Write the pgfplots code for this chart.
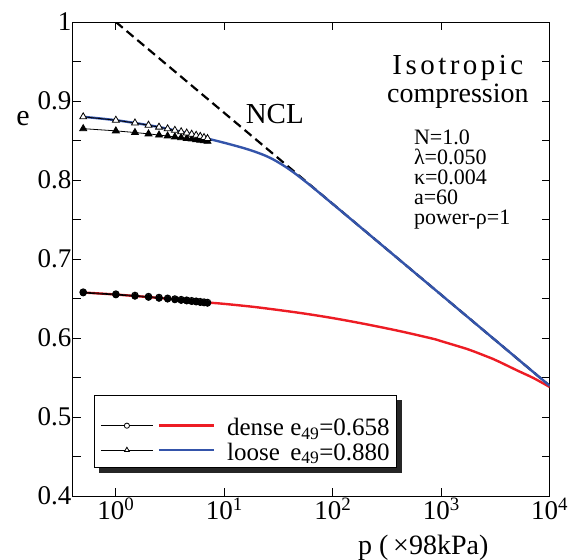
\documentclass[border=0pt]{standalone}
\usepackage{fontspec}
\setmainfont{Liberation Serif}
\usepackage{pgfplots}
\pgfplotsset{compat=1.18}
\usepackage{pgfplotstable}
\definecolor{myred}{RGB}{237,28,36}
\definecolor{myblue}{RGB}{52,84,170}
\pgfdeclarelayer{background}
\pgfsetlayers{background,main}

\pgfplotstableread{
p e
0.5 0.8800
1 0.8757
1.5 0.8722
2 0.8694
2.5 0.8669
3 0.8648
3.5 0.8629
4 0.8611
4.5 0.8595
5 0.8580
5.5 0.8566
6 0.8552
6.5 0.8538
7 0.8525
}\looseopen

\pgfplotstableread{
p e
0.5 0.8650
1 0.8622
1.5 0.8601
2 0.8584
2.5 0.8569
3 0.8557
3.5 0.8546
4 0.8536
4.5 0.8527
5 0.8519
5.5 0.8511
6 0.8504
6.5 0.8497
7 0.8490
}\loosefilled

\pgfplotstableread{
p e
0.5 0.6580
1 0.6555
1.5 0.6538
2 0.6524
2.5 0.6512
3 0.6502
3.5 0.6493
4 0.6485
4.5 0.6478
5 0.6471
5.5 0.6465
6 0.6459
6.5 0.6454
7 0.6449
}\denseopen

\pgfplotstableread{
p e
0.5 0.6570
1 0.6545
1.5 0.6528
2 0.6514
2.5 0.6502
3 0.6492
3.5 0.6483
4 0.6475
4.5 0.6468
5 0.6461
5.5 0.6455
6 0.6449
6.5 0.6444
7 0.6439
}\densefilled

\pgfplotstableread{
p e
0.5 0.8800
1 0.8757
2 0.8694
3 0.8648
5 0.8580
7 0.8525
10 0.8471
12 0.8442
15 0.8405
18 0.8371
20 0.8349
22 0.8328
25 0.8296
28 0.8263
30 0.8240
35 0.8185
40 0.8132
45 0.8081
50 0.8033
60 0.7948
70 0.7873
100 0.7696
300 0.7148
1000 0.6546
3000 0.5997
10000 0.5395
}\loosecurve

\pgfplotstableread{
p e
0.5 0.6576
1 0.6550
2 0.6518
3 0.6498
5 0.6472
7 0.6450
10 0.6432
20 0.6389
50 0.6317
100 0.6252
200 0.6176
415 0.6087
842 0.5990
1000 0.5960
1713 0.5863
2000 0.5830
3000 0.5735
3475 0.5695
5000 0.5590
7060 0.5494
10000 0.5380
}\densecurve

\pgfplotstableread{
p e
1 1.0
10000 0.5395
}\ncl

\begin{document}
\begin{tikzpicture}
\path[use as bounding box] (-72.7pt,-64pt) rectangle (514.3pt,496pt);
\begin{axis}[
  at={(0pt,0pt)}, anchor=south west,
  scale only axis, width=477pt, height=474pt,
  xmode=log, log basis x=10,
  xmin=0.4, xmax=10000, ymin=0.4, ymax=1,
  xtick={1,10,100,1000,10000},
  xticklabels={10\textsuperscript{0},10\textsuperscript{1},10\textsuperscript{2},10\textsuperscript{3},10\textsuperscript{4}},
  xminorticks=false,
  ytick={0.4,0.5,0.6,0.7,0.8,0.9,1},
  yticklabels={0.4,0.5,0.6,0.7,0.8,0.9,1},
  minor ytick={0.45,0.55,0.65,0.75,0.85,0.95},
  tick align=inside,
  major tick length=8pt, minor tick length=8pt,
  axis line style={line width=1pt},
  every tick/.style={black, line width=1pt},
  tick label style={font=\fontsize{27}{27}\selectfont},
  yticklabel style={anchor=east, inner sep=0pt, xshift=-1pt},
  xticklabel style={anchor=north, inner sep=0pt, yshift=-2pt},
  xlabel={p (\,×98kPa)},
  xlabel style={at={(axis description cs:0.735,-0.11)}, anchor=center, font=\fontsize{28}{28}\selectfont, inner sep=0pt},
  ylabel={e},
  ylabel style={at={(axis description cs:-0.104,0.797)}, anchor=center, rotate=-90, font=\fontsize{30}{30}\selectfont, inner sep=0pt},
  legend style={name=leg, at={(axis description cs:0.0447,0.059)}, anchor=south west,
    draw=black, line width=1pt, fill=white,
    font=\fontsize{25}{27}\selectfont, inner xsep=6pt, inner ysep=6pt,
    row sep=5.5pt,
    cells={anchor=base west},
    nodes={inner xsep=1pt, inner ysep=0pt},
    /tikz/every odd column/.append style={column sep=11pt}},
]
\addplot[black, dashed, line width=2.2pt, dash pattern=on 9pt off 5pt, forget plot] table[x=p,y=e] {\ncl};

\addplot[myred, line width=2.4pt, smooth, tension=0.5,
  legend image code/.code={
    \draw[black, line width=0.8pt] (0pt,10pt) -- (52pt,10pt);
    \draw[black, line width=0.8pt, fill=white] (26pt,10pt) circle (2.6pt);
    \draw[myred, line width=2.4pt] (58pt,10pt) -- (113pt,10pt);
  }] table[x=p,y=e] {\densecurve};
\addlegendentry{\rule{0pt}{34pt}dense e\textsubscript{49}=0.658}

\addplot[myblue, line width=2.4pt, smooth, tension=0.5,
  legend image code/.code={
    \draw[black, line width=0.8pt] (0pt,10pt) -- (52pt,10pt);
    \draw[black, line width=0.8pt, fill=white] (26pt,12.8pt) -- (28.4pt,8.6pt) -- (23.6pt,8.6pt) -- cycle;
    \draw[myblue, line width=2.4pt] (58pt,10pt) -- (113pt,10pt);
  }] table[x=p,y=e] {\loosecurve};
\addlegendentry{loose~\,e\textsubscript{49}=0.880}

\addplot[black, line width=0.8pt, mark=triangle*, mark size=4pt, mark options={fill=black}, forget plot] table[x=p,y=e] {\loosefilled};
\addplot[black, line width=0.8pt, mark=triangle*, mark size=4pt, mark options={fill=white}, forget plot] table[x=p,y=e] {\looseopen};
\addplot[black, line width=0.8pt, mark=*, mark size=3.2pt, mark options={fill=white, line width=1.2pt}, forget plot] table[x=p,y=e] {\denseopen};
\addplot[black, line width=0.8pt, mark=*, mark size=3pt, mark options={fill=black}, forget plot] table[x=p,y=e] {\densefilled};

\node[anchor=base west, font=\fontsize{29}{29}\selectfont, inner sep=0pt] at (axis cs:15.7,0.8709) {NCL};
\node[anchor=north, align=center, font=\fontsize{28}{28.4}\selectfont, inner sep=0pt] at (axis cs:1423,0.9582) {{\fontsize{29}{29}\selectfont\addfontfeatures{LetterSpace=12}Isotropic}\\compression};
\node[anchor=north west, align=left, font=\fontsize{22}{20}\selectfont, inner sep=0pt] at (axis cs:558.5,0.8642) {N=1.0\\λ=0.050\\κ=0.004\\a=60\\power-ρ=1};
\end{axis}
\begin{pgfonlayer}{background}
\fill[black!85] ([shift={(4.5pt,-4.5pt)}]leg.south west) rectangle ([shift={(4.5pt,-4.5pt)}]leg.north east);
\end{pgfonlayer}
\end{tikzpicture}
\end{document}
